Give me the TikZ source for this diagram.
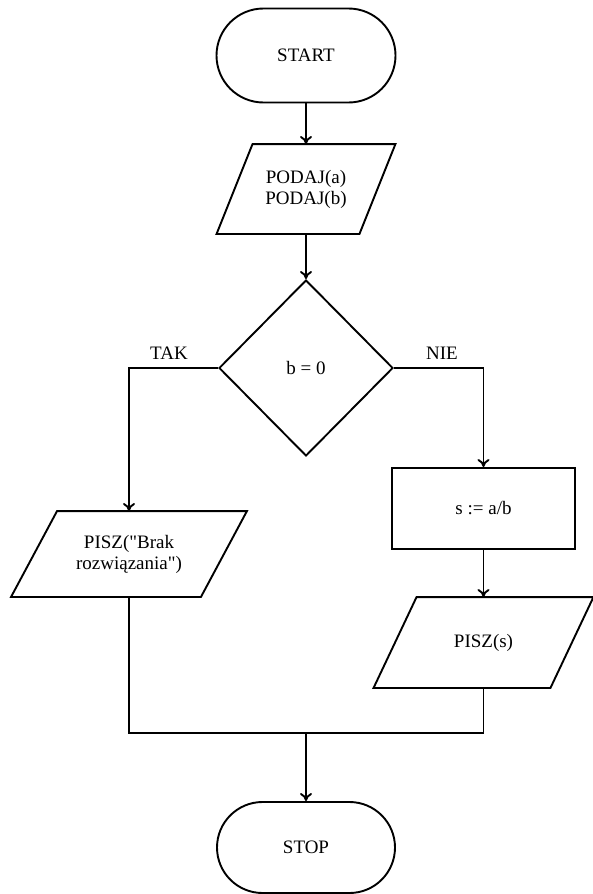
\documentclass[tikz,border=0pt]{standalone}
\usepackage{fontspec}
\setmainfont{Liberation Serif}[Ligatures=TeXOff]
\usetikzlibrary{shapes.geometric,shapes.misc,arrows.meta}

% parallelogram drawn over an invisible rectangular node: #1 node name, #2 slant
\newcommand\slantbox[2]{%
  \draw ([xshift=#2]#1.north west) -- (#1.north east)
        -- ([xshift=-#2]#1.south east) -- (#1.south west) -- cycle;}

\begin{document}
\begin{tikzpicture}[x=1pt,y=-1pt,line width=1.9pt,
  every node/.style={font=\fontsize{19}{21}\selectfont,align=center},
  term/.style={rounded rectangle,draw,minimum width=179pt,minimum height=94pt,inner sep=0pt},
  iobox/.style={rectangle,inner sep=0pt},
  procbox/.style={rectangle,draw,minimum width=183pt,minimum height=81pt,inner sep=0pt},
  decision/.style={diamond,draw,minimum width=174pt,minimum height=176pt,inner sep=0pt},
  arr/.style={-{To[length=8pt,width=12pt]}}]

\useasboundingbox (0,0) rectangle (593,894);

% nodes
\node[term] (start) at (306,55.5) {START};
\node[iobox,minimum width=177pt,minimum height=88pt] (in) at (306,189) {PODAJ(a)\\PODAJ(b)};
\slantbox{in}{36pt}
\node[decision] (dec) at (306,368) {b = 0};
\node[iobox,minimum width=234pt,minimum height=84pt] (err) at (129,554) {PISZ("Brak\\rozwiązania")};
\slantbox{err}{46pt}
\node[procbox] (calc) at (483.5,508.5) {s := a/b};
\node[iobox,minimum width=218pt,minimum height=89pt] (out) at (483.5,642.5) {PISZ(s)};
\slantbox{out}{43pt}
\node[term,minimum width=178pt,minimum height=91pt] (stop) at (306,847.5) {STOP};

% branch labels
\node (tak) at (169,353) {TAK};
\node (nie) at (442,353) {NIE};

% connectors
\coordinate (merge) at (306,733);
\draw[arr] (start.south) -- (in.north);
\draw[arr] (in.south) -- (dec.north);
\draw[arr] (dec.west) -| (err.north);
\draw[arr] (dec.east) -| (calc.north);
\draw[arr] (calc.south) -- (out.north);
\draw (err.south) |- (merge) -| (out.south);
\draw[arr] (merge) -- (stop.north);
\end{tikzpicture}
\end{document}
